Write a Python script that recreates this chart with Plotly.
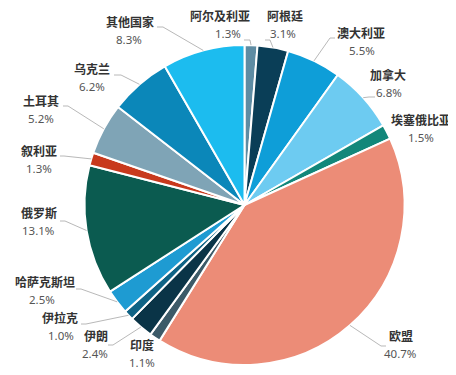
import math
import plotly.graph_objects as go

# ---- data ----
countries = ["阿尔及利亚", "阿根廷", "澳大利亚", "加拿大", "埃塞俄比亚", "欧盟", "印度", "伊朗",
             "伊拉克", "哈萨克斯坦", "俄罗斯", "叙利亚", "土耳其", "乌克兰", "其他国家"]
shares = [1.3, 3.1, 5.5, 6.8, 1.5, 40.7, 1.1, 2.4, 1.0, 2.5, 13.1, 1.3, 5.2, 6.2, 8.3]

# ---- style ----
colors = ["#5E8CA3", "#0A3E57", "#0E9ED8", "#6DCBF1", "#12877A", "#EC8C77", "#3C5A68", "#0A3447",
          "#0F6385", "#1E9BD2", "#0B5B50", "#C8391D", "#7FA4B6", "#0B87B9", "#1CBCEF"]

W, H = 456, 375
CX, CY, R = 236.5, 197.0, 160.0

# label: name x, pct x, boundary y between the two lines (px); leader line points (elbow, end)
label_layout = [
    (212, 220, 17, [(242, 32), (236, 32)]),
    (277, 275, 17, [(262, 32), (257, 32)]),
    (353, 354, 34.5, [(322, 30), (327, 30)]),
    (380, 381, 76, [(361, 89), (367, 89)]),
    (413, 413, 121, None),
    (393, 392, 337, [(373, 338), (378, 338)]),
    (134, 134, 346, None),
    (88, 87, 337, [(105, 337), (100, 337)]),
    (52, 53, 318.5, [(78, 316), (73, 316)]),
    (37, 34, 283, [(73, 281), (68, 281)]),
    (31, 30, 214.5, [(57, 213), (52, 213)]),
    (31, 31, 152, [(56, 148), (52, 148)]),
    (33, 33, 102, [(60, 98), (55, 98)]),
    (84, 84, 69.5, [(113, 67), (106, 67)]),
    (122, 121, 23, [(155, 19), (149, 19)]),
]


def px(x):
    return x / W


def py(y):
    return 1 - y / H


fig = go.Figure(go.Pie(
    labels=countries, values=shares, sort=False, direction="clockwise", rotation=0,
    marker=dict(colors=colors, line=dict(color="white", width=2)),
    textinfo="none", hoverinfo="label+percent", showlegend=False,
    domain=dict(x=[px(CX - R), px(CX + R)], y=[py(CY + R), py(CY - R)]),
))

total = sum(shares)
cum = 0.0
annotations = []
shapes = []
for name, v, (nx, qx, by, line) in zip(countries, shares, label_layout):
    mid = (cum + v / 2) / total * 2 * math.pi
    cum += v
    ex = CX + R * math.sin(mid)
    ey = CY - R * math.cos(mid)
    annotations.append(dict(
        x=px(nx), y=py(by), xref="paper", yref="paper", showarrow=False,
        xanchor="center", yanchor="bottom", borderpad=0, text=f"<b>{name}</b>",
        font=dict(family="Noto Sans CJK SC", size=12, color="#333333"),
    ))
    annotations.append(dict(
        x=px(qx), y=py(by), xref="paper", yref="paper", showarrow=False,
        xanchor="center", yanchor="top", borderpad=0, text=f"{v:.1f}%",
        font=dict(family="Noto Sans", size=11.5, color="#555555"),
    ))
    if line:
        pts = [(ex, ey)] + line
        path = "M " + " L ".join(f"{px(a):.5f},{py(b):.5f}" for a, b in pts)
        shapes.append(dict(type="path", xref="paper", yref="paper", path=path,
                           line=dict(color="#A6A6A6", width=0.8)))

fig.update_layout(
    width=W, height=H, margin=dict(l=0, r=0, t=0, b=0),
    paper_bgcolor="white", plot_bgcolor="white",
    annotations=annotations, shapes=shapes,
    font=dict(family="Noto Sans CJK SC"),
)
fig.write_html("out.html")
